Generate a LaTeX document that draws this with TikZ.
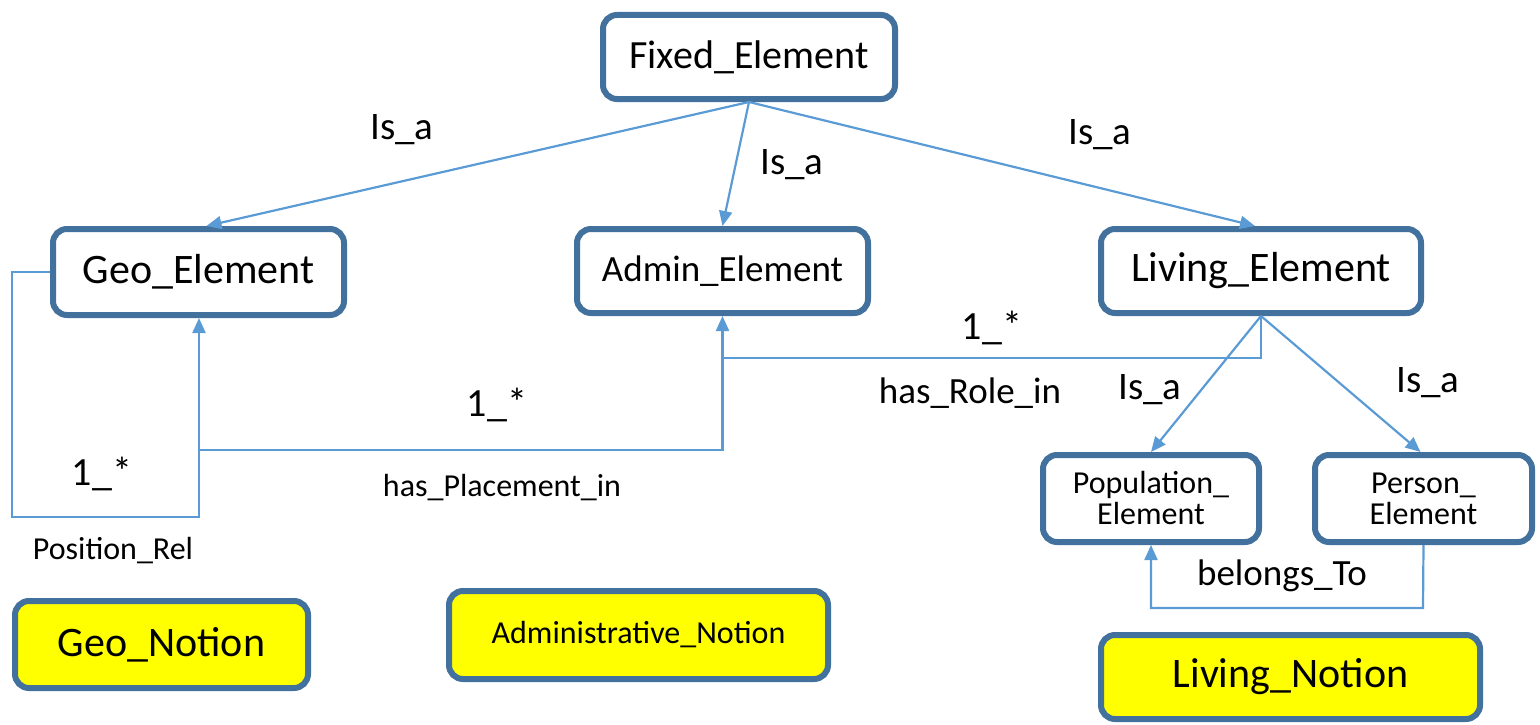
\documentclass[tikz,border=0pt]{standalone}
\usepackage{fontspec}
\setmainfont{Carlito}
\usetikzlibrary{arrows.meta}
\definecolor{boxblue}{RGB}{65,113,156}
\definecolor{linkblue}{RGB}{91,155,213}
\definecolor{notionyellow}{RGB}{255,255,0}
\newcommand{\fs}[1]{\fontsize{#1}{#1}\selectfont}
\tikzset{
  element/.style={draw=boxblue, line width=6pt, rounded corners=14pt, fill=white,
    align=center, inner sep=0pt},
  notion/.style={element, fill=notionyellow},
  link/.style={draw=linkblue, line width=2.2pt},
  linkarrow/.style={link, -{Triangle[length=15pt,width=13pt]}},
  lbl/.style={inner sep=0pt, anchor=center}
}
\begin{document}
\begin{tikzpicture}[x=1pt,y=-1pt]
\useasboundingbox (0,0) rectangle (1540,725);

% class boxes
\node[element, minimum width=292pt, minimum height=84pt, font=\fs{40}] (fixed) at (749,57) {Fixed\_Element};
\node[element, minimum width=291pt, minimum height=86pt, font=\fs{42}] (geo) at (198.5,272) {Geo\_Element};
\node[element, minimum width=291pt, minimum height=84pt, font=\fs{37}] (admin) at (722.5,271) {Admin\_Element};
\node[element, minimum width=320pt, minimum height=84pt, font=\fs{42}] (living) at (1261,271) {Living\_Element};
\node[element, minimum width=216pt, minimum height=87pt, font=\fontsize{32}{31}\selectfont] (population) at (1151,498.5) {Population\_\\Element};
\node[element, minimum width=217pt, minimum height=87pt, font=\fontsize{32}{31}\selectfont] (person) at (1423.5,498.5) {Person\_\\Element};

% notion boxes
\node[notion, minimum width=293pt, minimum height=87pt, font=\fs{42}] (geonotion) at (161.5,644.5) {Geo\_Notion};
\node[notion, minimum width=379pt, minimum height=88pt, font=\fs{32}] (adminnotion) at (638.5,635) {Administrative\_Notion};
\node[notion, minimum width=379pt, minimum height=84pt, font=\fs{42}] (livingnotion) at (1290.5,677) {Living\_Notion};

% generalisation links
\draw[linkarrow] (fixed.south) -- ([xshift=8pt]geo.north);
\draw[linkarrow] (fixed.south) -- (admin.north);
\draw[linkarrow] (fixed.south) -- ([xshift=-6pt]living.north);
\draw[linkarrow] (living.south) -- (population.north);
\draw[linkarrow] (living.south) -- ([xshift=-3pt]person.north);

% Position_Rel self loop
\coordinate (loopA) at (12,517);
\coordinate (loopB) at (199,517);
\draw[linkarrow] (geo.west) -| (loopA) -- (loopB) -- (loopB |- geo.south);

% has_Placement_in
\coordinate (place) at (199,450);
\draw[linkarrow] (place) -| (admin.south);

% has_Role_in
\coordinate (role) at (722,358);
\draw[link] (living.south) |- (role);

% belongs_To
\coordinate (belong) at (1423,608);
\draw[linkarrow] (person.south) -- (belong) -| (population.south);

% labels
\node[lbl, font=\fs{39}] (l1) at (402,130) {Is\_a};
\node[lbl, font=\fs{39}] (l2) at (792,165) {Is\_a};
\node[lbl, font=\fs{39}] (l3) at (1100,135) {Is\_a};
\node[lbl, font=\fs{39}] (l4) at (1150,390) {Is\_a};
\node[lbl, font=\fs{39}] (l5) at (1428,383) {Is\_a};
\node[lbl, font=\fs{40}] (m1) at (102,474) {1\_*};
\node[lbl, font=\fs{32}] (r1) at (113,551) {Position\_Rel};
\node[lbl, font=\fs{40}] (m2) at (497,405) {1\_*};
\node[lbl, font=\fs{32}] (r2) at (502,488) {has\_Placement\_in};
\node[lbl, font=\fs{40}] (m3) at (992,328) {1\_*};
\node[lbl, font=\fs{37}] (r3) at (970,393) {has\_Role\_in};
\node[lbl, font=\fs{37}] (r4) at (1282,576) {belongs\_To};
\end{tikzpicture}
\end{document}
